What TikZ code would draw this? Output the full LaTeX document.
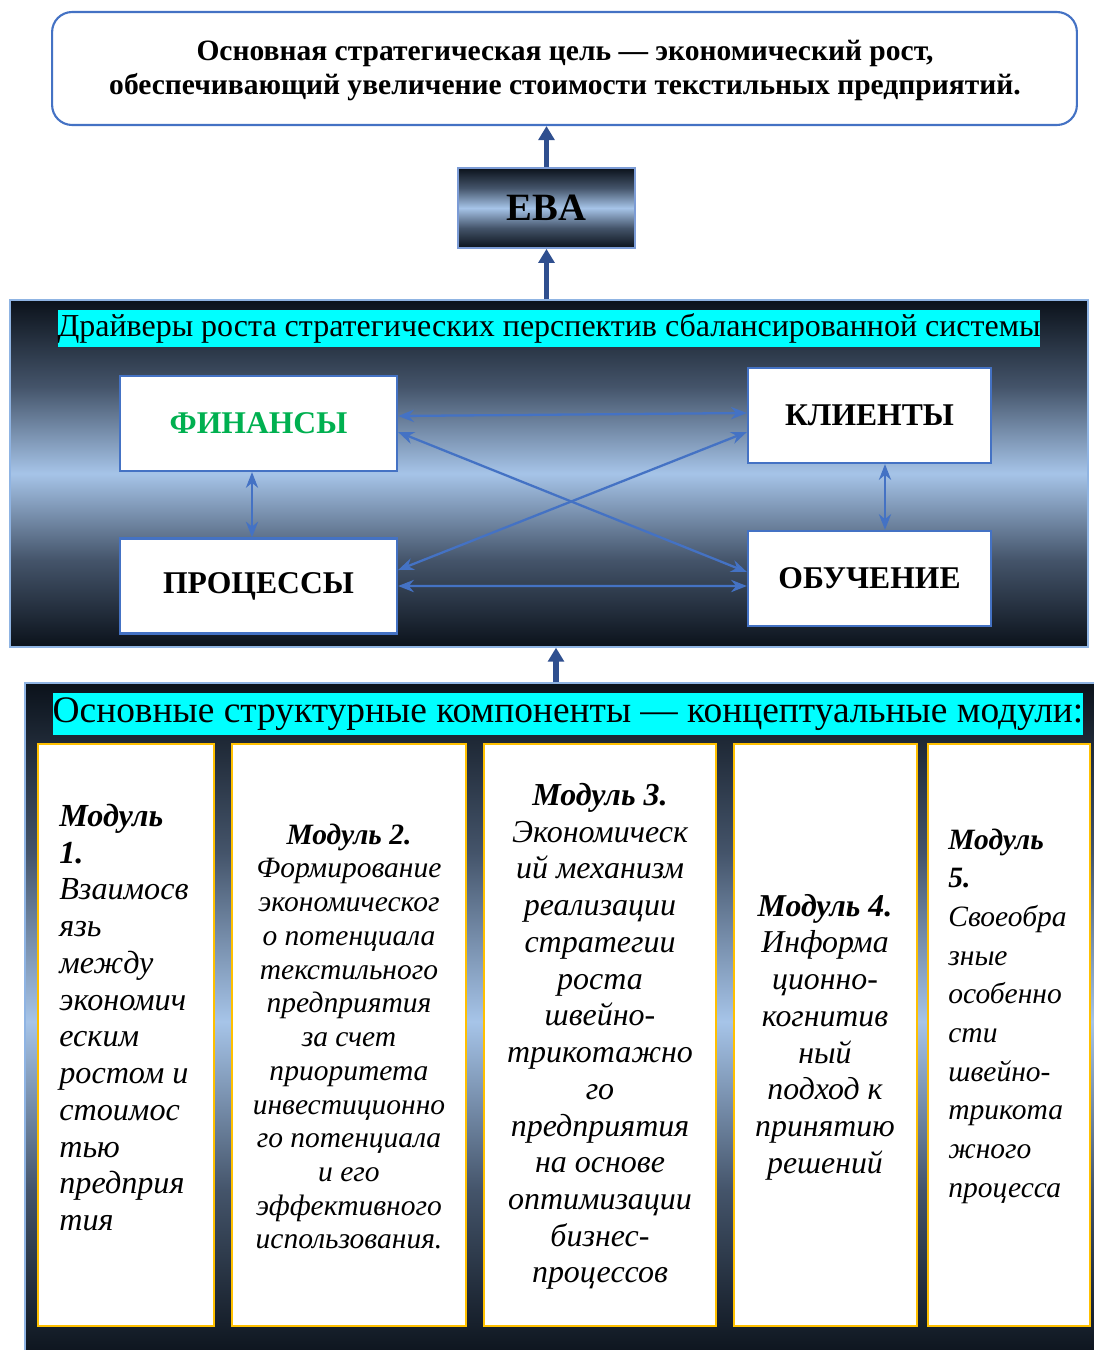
\documentclass[tikz,border=0pt]{standalone}
\usepackage{fontspec}
\setmainfont{Liberation Serif}
\usetikzlibrary{arrows.meta}

\definecolor{boxblue}{HTML}{4472C4}
\definecolor{stripcyan}{HTML}{00FFFF}
\definecolor{fingreen}{HTML}{00B050}
\definecolor{modorange}{HTML}{FFC000}
\definecolor{paneldark}{HTML}{0B121B}
\definecolor{panelmid}{HTML}{44546A}
\definecolor{panellight}{HTML}{A6C4E8}
\definecolor{panelborder}{HTML}{8FB4E3}
\definecolor{arrownavy}{HTML}{2F4F8F}

\pgfdeclareverticalshading{panelshade}{100bp}{color(0bp)=(paneldark); color(25bp)=(paneldark); color(37.5bp)=(panelmid); color(50bp)=(panellight); color(62.5bp)=(panelmid); color(75bp)=(paneldark); color(100bp)=(paneldark)}

\tikzset{
  goalbox/.style={draw=boxblue, line width=1.2pt, rounded corners=0.4cm, fill=white,
    minimum width=20.5cm, minimum height=2.26cm},
  panel/.style={draw=panelborder, line width=0.8pt, shading=panelshade},
  strip/.style={fill=stripcyan, inner xsep=0pt, inner ysep=0pt},
  driverbox/.style={draw=boxblue, line width=1.3pt, fill=white, minimum height=1.9cm,
    font=\fontsize{18}{20}\selectfont\bfseries},
  modbox/.style={draw=modorange, line width=1.2pt, fill=white, minimum height=11.64cm},
  modtext/.style={inner sep=0pt, font=\itshape},
  twoway/.style={boxblue, line width=1.3pt, {Stealth[length=9pt,width=7pt]}-{Stealth[length=9pt,width=7pt]}},
  upblock/.style={arrownavy, line width=3pt, -{Triangle[length=8pt,width=9pt]}}
}

\begin{document}
\begin{tikzpicture}[x=0.02cm, y=-0.02cm]
\useasboundingbox (0,0) rectangle (1094,1350);

% goal and EBA
\node[goalbox] (goal) at (564.5,68.5) {};
\node[align=center, inner sep=0pt, font=\fontsize{16.8}{19.8}\selectfont\bfseries] (goaltext) at (565,70.5)
  {Основная стратегическая цель — экономический рост,\\обеспечивающий увеличение стоимости текстильных предприятий.};
\node[panel, draw=boxblue!70!white, line width=1pt, minimum width=3.54cm, minimum height=1.6cm,
  font=\fontsize{22}{24}\selectfont\bfseries] (eba) at (546.5,208) {EBA};

% drivers
\node[panel, minimum width=21.56cm, minimum height=6.94cm] (drv) at (549,473.5) {};
\node[strip, minimum height=0.74cm, font=\fontsize{18.2}{20}\selectfont] (drvtitle) at (549,328.5) {Драйверы роста стратегических перспектив сбалансированной системы};
\node[driverbox, text=fingreen, minimum width=5.54cm] (fin) at (258.5,423.5) {ФИНАНСЫ};
\node[driverbox, minimum width=4.86cm] (kli) at (869.5,415.5) {КЛИЕНТЫ};
\node[driverbox, minimum width=5.54cm] (pro) at (258.5,586) {ПРОЦЕССЫ};
\node[driverbox, minimum width=4.86cm] (obu) at (869.5,578.5) {ОБУЧЕНИЕ};

\draw[twoway] ([yshift=0.15cm]fin.east) -- ([yshift=0.05cm]kli.west);
\draw[twoway] ([yshift=-0.17cm]fin.east) -- ([yshift=0.13cm]obu.west);
\draw[twoway] ([yshift=0.32cm]pro.east) -- ([yshift=-0.33cm]kli.west);
\draw[twoway] (pro.east) -- ([yshift=-0.15cm]obu.west);
\draw[twoway, line width=0.9pt] ([xshift=-0.13cm]fin.south) -- ([xshift=-0.13cm]pro.north);
\draw[twoway, line width=0.9pt] ([xshift=0.31cm]kli.south) -- ([xshift=0.31cm]obu.north);

% modules
\node[panel, minimum width=21.5cm, minimum height=13.54cm] (mod) at (562.5,1021.5) {};
\node[strip, minimum height=0.84cm, font=\fontsize{21.3}{24}\selectfont] (modtitle) at (568,714) {Основные структурные компоненты — концептуальные модули:};
\node[modbox, minimum width=3.52cm] (m1) at (126,1035) {};
\node[modbox, minimum width=4.68cm] (m2) at (349,1035) {};
\node[modbox, minimum width=4.64cm] (m3) at (600,1035) {};
\node[modbox, minimum width=3.66cm] (m4) at (825.5,1035) {};
\node[modbox, minimum width=3.24cm] (m5) at (1009,1035) {};

\node[modtext, anchor=west, align=left, font=\fontsize{18.3}{20.9}\selectfont\itshape] (t1) at (59,1017.5)
  {\textbf{Модуль}\\\textbf{1.}\\Взаимосв\\язь\\между\\экономич\\еским\\ростом и\\стоимос\\тью\\предприя\\тия};
\node[modtext, align=center, font=\fontsize{16.8}{19.2}\selectfont\itshape] (t2) at (349,1036.5)
  {\textbf{Модуль 2.}\\Формирование\\экономическог\\о потенциала\\текстильного\\предприятия\\за счет\\приоритета\\инвестиционно\\го потенциала\\и его\\эффективного\\использования.};
\node[modtext, align=center, font=\fontsize{18.2}{20.9}\selectfont\itshape] (t3) at (600,1036.5)
  {\textbf{Модуль 3.}\\Экономическ\\ий механизм\\реализации\\стратегии\\роста\\швейно-\\трикотажно\\го\\предприятия\\на основе\\оптимизации\\бизнес-\\процессов};
\node[modtext, align=center, font=\fontsize{18.1}{20.9}\selectfont\itshape] (t4) at (825,1037)
  {\textbf{Модуль 4.}\\Информа\\ционно-\\когнитив\\ный\\подход к\\принятию\\решений};
\node[modtext, anchor=west, align=left, font=\fontsize{16.8}{22}\selectfont\itshape] (t5) at (948,1016)
  {\textbf{Модуль}\\\textbf{5.}\\Своеобра\\зные\\особенно\\сти\\швейно-\\трикота\\жного\\процесса};

% upward arrows
\coordinate (modarrow) at ([xshift=-0.13cm]mod.north);
\draw[upblock] (eba.north) -- (eba.north |- goal.south);
\draw[upblock] (drv.north -| eba.south) -- (eba.south);
\draw[upblock] (modarrow) -- (modarrow |- drv.south);
\end{tikzpicture}
\end{document}
